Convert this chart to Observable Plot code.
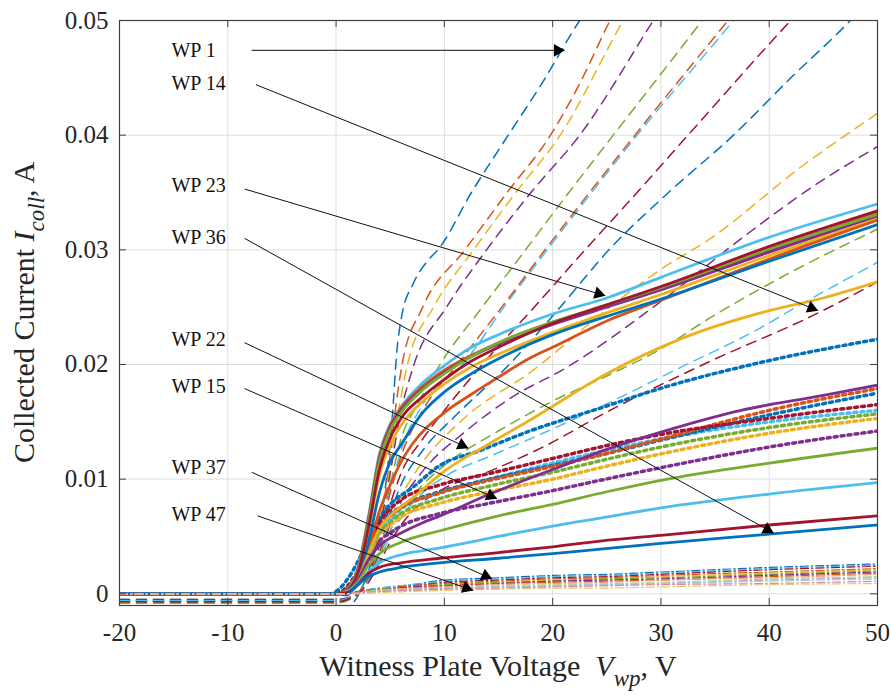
<!DOCTYPE html>
<html><head><meta charset="utf-8">
<script src="https://cdn.jsdelivr.net/npm/d3@7"></script>
<script src="https://cdn.jsdelivr.net/npm/@observablehq/plot@0.6"></script>
<style>
body{margin:0;background:#fff}
svg{display:block}
#chart svg text, #chart svg tspan{font-family:"Liberation Serif","Times New Roman",serif !important;}
</style>
</head><body><div id="chart"></div>
<script>
// ---------- data ----------
const xTicks = [-20, -10, 0, 10, 20, 30, 40, 50];
const yTicks = [0, 0.01, 0.02, 0.03, 0.04, 0.05];
const palette = {blue:"#0072BD", orange:"#D95319", yellow:"#EDB120", purple:"#7E2F8E", green:"#77AC30", lightblue:"#4DBEEE", red:"#A2142F"};

// thin dashed curves: [colour, [[V, I], ...]]
const dashedCurves = [
  ["blue",      [[-20,-0.0006],[-2,-0.0006],[0,-0.0009],[1,-0.0012],[2,-0.0002],[3,0.002],[4,0.0055],[4.7,0.0105],[5.2,0.0155],[5.6,0.021],[6.1,0.0244],[7.1,0.027],[8.7,0.0293],[9.4,0.030],[12.5,0.035],[15.9,0.040],[19,0.0445],[22.5,0.050],[24,0.052]]],
  ["orange",    [[-20,-0.0007],[0,-0.0007],[2,0],[3,0.0022],[4,0.006],[4.8,0.0105],[5.4,0.0155],[6.1,0.02],[8,0.025],[11.9,0.030],[15.8,0.035],[19.8,0.040],[22.5,0.0445],[25.3,0.050],[27,0.053]]],
  ["yellow",    [[-20,-0.0005],[0,-0.0005],[2,0],[3,0.002],[4,0.0058],[4.9,0.0105],[5.6,0.015],[6.6,0.02],[9,0.025],[12.7,0.03],[16.6,0.035],[20.7,0.04],[26.5,0.05],[28,0.0525]]],
  ["purple",    [[-20,-0.0006],[0,-0.0006],[2,0],[3,0.002],[4,0.0056],[5,0.0105],[5.8,0.015],[7.2,0.02],[10.2,0.025],[13.9,0.03],[18,0.035],[22.5,0.04],[29.3,0.05],[31,0.0525]]],
  ["green",     [[-20,-0.0007],[0,-0.0007],[2,0],[3,0.0018],[4,0.0052],[5,0.0095],[6,0.0135],[7.5,0.0165],[9.6,0.02],[13.5,0.025],[17.5,0.03],[21.5,0.035],[25.6,0.04],[33.8,0.05],[35,0.0515]]],
  ["lightblue", [[-20,-0.0005],[0,-0.0005],[2,0],[3,0.0018],[4,0.005],[5,0.009],[6,0.0125],[8,0.0165],[11.7,0.02],[15.5,0.025],[19.5,0.03],[23.6,0.035],[27.8,0.04],[36.7,0.05],[38,0.0515]]],
  ["orange",    [[-20,-0.0008],[0,-0.0008],[2,0],[3,0.0018],[4,0.005],[5,0.0088],[6,0.012],[8,0.016],[11.2,0.02],[15.3,0.025],[19.3,0.03],[23.4,0.035],[27.6,0.04],[36.2,0.05],[37.5,0.0515]]],
  ["red",       [[-20,-0.0006],[0,-0.0006],[2,0],[3,0.0016],[4,0.0045],[5,0.0078],[6,0.0105],[8,0.0135],[10,0.016],[13.5,0.02],[18.3,0.025],[23,0.03],[27.8,0.035],[32.5,0.04],[42,0.05],[43,0.051]]],
  ["blue",      [[-20,-0.0007],[0,-0.0007],[2,0],[3,0.0015],[4,0.004],[5,0.007],[6,0.0095],[8,0.0125],[11,0.0155],[16,0.02],[20.7,0.025],[25.2,0.03],[30.7,0.035],[36.7,0.04],[42,0.045],[47.5,0.05],[49,0.0515]]],
  ["yellow",    [[-20,-0.0006],[0,-0.0006],[2,0],[3,0.0014],[4,0.0038],[5,0.0065],[6,0.0085],[8,0.0115],[11.7,0.0152],[18.2,0.0195],[25,0.0248],[30,0.0283],[34.6,0.031],[42.9,0.0372],[50,0.0419]]],
  ["purple",    [[-20,-0.0005],[0,-0.0005],[2,0],[3,0.0013],[4,0.0036],[5,0.006],[6,0.008],[8,0.0107],[12,0.0142],[16,0.017],[21.4,0.0198],[30,0.0255],[38,0.0314],[44,0.0355],[50,0.039]]],
  ["green",     [[-20,-0.0008],[0,-0.0008],[2,0],[3,0.0012],[4,0.0033],[5,0.0055],[6,0.0072],[8,0.0095],[10,0.0112],[15,0.0142],[20,0.0168],[25,0.019],[29.9,0.0213],[34.6,0.0241],[41.7,0.0279],[50,0.0318]]],
  ["lightblue", [[-20,-0.0006],[0,-0.0006],[2,0],[3,0.0011],[4,0.003],[5,0.005],[6,0.0066],[8,0.0088],[10,0.0102],[14.2,0.012],[17.9,0.0135],[24.4,0.0163],[31.5,0.0196],[39.2,0.0232],[42.3,0.0249],[50,0.0289]]],
  ["red",       [[-20,-0.0007],[0,-0.0007],[2,0],[3,0.001],[4,0.0027],[5,0.0045],[6,0.006],[8,0.008],[10,0.0092],[14.2,0.0107],[19.1,0.0128],[25.3,0.016],[34.6,0.0203],[44.1,0.0243],[50,0.0272]]]
];

// thick solid curves
const solidCurves = [
  ["lightblue", [[-20,0],[0,0],[1,0.0004],[2,0.0022],[3,0.0068],[4,0.0122],[5,0.0148],[6,0.0163],[8,0.0184],[10,0.0199],[12.5,0.0215],[15,0.0226],[20,0.0244],[25,0.0258],[30,0.0276],[40,0.0311],[50,0.034]]],
  ["orange",    [[-20,0],[0,0],[1,0.0004],[2,0.0021],[3,0.0066],[4,0.012],[5,0.0147],[6,0.0162],[8,0.0181],[10,0.0195],[12.5,0.0208],[15,0.0219],[20,0.0237],[25,0.0251],[30,0.0266],[40,0.03],[50,0.0332]]],
  ["purple",    [[-20,0],[0,0],[1,0.0004],[2,0.002],[3,0.0064],[4,0.0117],[5,0.0145],[6,0.016],[8,0.0179],[10,0.0193],[12.5,0.0207],[15,0.0218],[20,0.0235],[25,0.025],[30,0.0265],[40,0.0298],[50,0.0329]]],
  ["green",     [[-20,0],[0,0],[1,0.0004],[2,0.002],[3,0.0063],[4,0.0115],[5,0.0143],[6,0.0158],[8,0.0178],[10,0.0192],[12.5,0.0207],[15,0.0219],[20,0.0237],[25,0.0252],[30,0.0267],[40,0.0301],[50,0.0331]]],
  ["yellow",    [[-20,0],[0,0],[1,0.0003],[2,0.0017],[3,0.0055],[4,0.0103],[5,0.013],[6,0.0147],[8,0.0168],[10,0.0183],[12.5,0.0198],[15,0.0209],[20,0.0228],[25,0.0245],[30,0.0261],[40,0.0295],[50,0.0327]]],
  ["orange",    [[-20,0],[0,0],[1,0.0002],[2,0.0012],[3,0.0038],[4,0.0072],[5,0.0095],[6,0.0115],[7,0.013],[10,0.0158],[12.5,0.0174],[15,0.0189],[18,0.0206],[20,0.0215],[25,0.0238],[30,0.0256],[40,0.0292],[50,0.0326]]],
  ["blue",      [[-20,0],[0,0],[1,0.0003],[2,0.0014],[3,0.0045],[4,0.0088],[5,0.0115],[6,0.013],[8,0.0158],[10,0.0176],[12.5,0.0192],[15,0.0205],[20,0.0226],[25,0.0242],[30,0.0257],[40,0.029],[50,0.0322]]],
  ["red",       [[-20,0],[0,0],[1,0.0003],[2,0.0018],[3,0.0058],[4,0.0108],[5,0.0136],[6,0.0153],[8,0.0172],[10,0.0187],[12.5,0.0203],[15,0.0215],[20,0.0236],[25,0.0252],[30,0.0268],[40,0.0303],[50,0.0334]]],
  ["yellow",    [[-20,0],[0,0],[1,0.0002],[2,0.0012],[3,0.0035],[4,0.0057],[5,0.0068],[7,0.0083],[10,0.0107],[14,0.013],[18,0.0152],[25,0.0192],[32,0.0223],[40,0.0247],[45,0.0258],[50,0.0272]]],
  ["purple",    [[-20,0],[0,0],[1,0.0002],[2,0.0012],[3,0.003],[4,0.0042],[6,0.0053],[8,0.0062],[9.6,0.0068],[14.2,0.0087],[21,0.0112],[25,0.0126],[30,0.0141],[37.4,0.016],[45,0.0173],[50,0.0182]]],
  ["green",     [[-20,0],[0,0],[1,0.0002],[2,0.001],[3,0.0025],[4,0.0035],[6,0.0045],[9.6,0.0055],[15,0.0068],[20,0.0078],[25,0.0089],[30,0.0099],[40,0.0114],[50,0.0127]]],
  ["lightblue", [[-20,0],[0,0],[1,0.0002],[2,0.0009],[3,0.0019],[4,0.0027],[6,0.0034],[9.6,0.004],[15,0.005],[20,0.0059],[24.4,0.0066],[30,0.0075],[40,0.0087],[50,0.0097]]],
  ["red",       [[-20,0],[0,0],[1,0.0001],[2,0.0008],[3,0.0018],[4,0.0023],[6,0.0027],[9.6,0.0031],[15,0.0036],[20,0.0041],[24.4,0.0046],[30,0.0051],[40,0.006],[50,0.0068]]],
  ["blue",      [[-20,0],[0,0],[1,-0.0001],[1.6,0.0004],[2.8,0.0014],[4,0.0019],[6,0.0023],[9.6,0.0027],[15,0.0031],[20,0.0035],[24.4,0.0039],[30,0.0044],[40,0.0052],[50,0.006]]]
];

// thick dotted curves
const dottedCurves = [
  ["blue",      [[-20,0],[-0.5,0],[0,0.0002],[1,0.0012],[2,0.0028],[2.5,0.0038],[3,0.0048],[4,0.0066],[5,0.0078],[7.1,0.0093],[9.6,0.0112],[13.3,0.0125],[17.9,0.0142],[24.4,0.0162],[29.9,0.0179],[39.8,0.0203],[50,0.0222]]],
  ["purple",    [[-20,0],[0,0],[1,0.0004],[2,0.0014],[3,0.003],[4,0.0046],[5,0.0053],[6,0.0059],[9.6,0.007],[14.2,0.0079],[20,0.009],[24.4,0.0099],[30,0.011],[40,0.0128],[50,0.0142]]],
  ["yellow",    [[-20,0],[0,0],[1,0.0004],[2,0.0016],[3,0.0033],[4,0.0052],[5,0.006],[6,0.0067],[9.6,0.0079],[14.2,0.0089],[20,0.01],[24.4,0.011],[30,0.0122],[40,0.014],[50,0.0153]]],
  ["green",     [[-20,0],[0,0],[1,0.0005],[2,0.0017],[3,0.0035],[4,0.0054],[5,0.0063],[6,0.007],[9.6,0.0083],[14.2,0.0094],[20,0.0106],[24.4,0.0116],[30,0.0128],[40,0.0145],[50,0.0157]]],
  ["lightblue", [[-20,0],[0,0],[1,0.0005],[2,0.0018],[3,0.0036],[4,0.0056],[5,0.0066],[6,0.0074],[9.6,0.0088],[14.2,0.0100],[20,0.0114],[24.4,0.0124],[30,0.0135],[40,0.015],[50,0.016]]],
  ["blue",      [[-20,0],[0,0],[1,0.0005],[2,0.0018],[3,0.0037],[4,0.0058],[5,0.0069],[6,0.0076],[9.6,0.0089],[14.2,0.0100],[20,0.0112],[24.4,0.0121],[30,0.0134],[40,0.0156],[50,0.0175]]],
  ["orange",    [[-20,0],[0,0],[1,0.0005],[2,0.0018],[3,0.0037],[4,0.0058],[5,0.0068],[6,0.0075],[9.6,0.0088],[14.2,0.0099],[20,0.0111],[24.4,0.0121],[30,0.0135],[40,0.016],[50,0.0179]]],
  ["red",       [[-20,0],[0,0],[1,0.0006],[2,0.002],[3,0.004],[4,0.0062],[5,0.0074],[6,0.0082],[9.6,0.0095],[14.2,0.0105],[20,0.0118],[24.4,0.0128],[30,0.0139],[40,0.0153],[50,0.0165]]]
];

// thin dash-dot curves near zero: common voltages, one value list per curve
const dashDotV = [-20, 0, 1, 2, 4, 7, 10, 15, 20, 25, 30, 40, 50];
const dashDotColors = ["#0072BD","#4DBEEE","#A2142F","#D95319","#EDB120","#77AC30","#7E2F8E","#D95319","#f0a07a","#b7d88f","#c39bcb","#9fc9e8","#d58b98","#e8c66f"];
const dashDotValues = [
  [0,0,0,0.0002,0.0005,0.0008,0.0012,0.0014,0.0016,0.0017,0.0019,0.0023,0.0026],
  [0,0,0,0.0002,0.0005,0.0008,0.0011,0.0013,0.0015,0.0016,0.0018,0.0022,0.0025],
  [0,0,0,0.0002,0.0004,0.0007,0.0010,0.0012,0.0014,0.0015,0.0017,0.0021,0.0024],
  [0,0,0,0.0002,0.0004,0.0007,0.0009,0.0011,0.0013,0.0014,0.0016,0.0019,0.0022],
  [0,0,0,0.0001,0.0004,0.0006,0.0008,0.0010,0.0012,0.0013,0.0015,0.0018,0.0021],
  [0,0,0,0.0001,0.0004,0.0006,0.0008,0.0010,0.0011,0.0013,0.0014,0.0017,0.0020],
  [0,0,0,0.0001,0.0003,0.0006,0.0007,0.0009,0.0011,0.0012,0.0013,0.0016,0.0019],
  [0,0,0,0.0001,0.0003,0.0005,0.0007,0.0009,0.0010,0.0011,0.0012,0.0015,0.0018],
  [0,0,0,0.0001,0.0003,0.0005,0.0006,0.0008,0.0009,0.0010,0.0012,0.0014,0.0017],
  [0,0,0,0.0001,0.0003,0.0004,0.0005,0.0007,0.0008,0.0009,0.0010,0.0013,0.0015],
  [0,0,0,0.0001,0.0002,0.0004,0.0005,0.0006,0.0007,0.0008,0.0009,0.0012,0.0014],
  [0,0,0,0.0001,0.0002,0.0003,0.0004,0.0006,0.0007,0.0008,0.0009,0.0011,0.0013],
  [0,0,0,0.0001,0.0002,0.0003,0.0004,0.0005,0.0006,0.0007,0.0008,0.0009,0.0011],
  [0,0,0,0,0.0001,0.0002,0.0003,0.0004,0.0005,0.0005,0.0006,0.0008,0.0009]
];

// annotations: label position, arrow start and arrow tip (data units)
const annotations = [
  {label:"WP 1",  tx:-15.2, ty:0.0474, x1:-7.8,  y1:0.0474, x2:21.1, y2:0.0474},
  {label:"WP 14", tx:-15.2, ty:0.0445, x1:-7.4,  y1:0.0444, x2:44.5, y2:0.0247},
  {label:"WP 23", tx:-15.2, ty:0.0356, x1:-8.45, y1:0.0353, x2:24.85, y2:0.0260},
  {label:"WP 36", tx:-15.2, ty:0.0311, x1:-8.45, y1:0.0310, x2:40.4, y2:0.0053},
  {label:"WP 22", tx:-15.2, ty:0.0222, x1:-8.45, y1:0.0219, x2:12.2, y2:0.0127},
  {label:"WP 15", tx:-15.2, ty:0.0181, x1:-8.45, y1:0.0179, x2:14.85, y2:0.0083},
  {label:"WP 37", tx:-15.2, ty:0.0110, x1:-7.8,  y1:0.0106, x2:14.4, y2:0.0013},
  {label:"WP 47", tx:-15.2, ty:0.0069, x1:-7.25, y1:0.0068, x2:12.65, y2:0.0003}
];

// ---------- build ----------
const FONT = '"Liberation Serif", "Times New Roman", serif';
const W = 891, H = 698, mL = 119, mR = 14, mT = 20, mB = 93;
const innerW = W - mL - mR, innerH = H - mT - mB;

const toRows = curves => curves.flatMap(([c, pts], i) => pts.map(([v, cur]) => ({id: i, color: palette[c], v, cur})));
const dashedRows = toRows(dashedCurves);
const solidRows = toRows(solidCurves);
const dottedRows = toRows(dottedCurves);
const dashDotRows = dashDotValues.flatMap((vals, i) => vals.map((cur, j) => ({id: i, color: dashDotColors[i], v: dashDotV[j], cur})));

const base = {
  width: W, height: H, marginLeft: mL, marginRight: mR, marginTop: mT, marginBottom: mB,
  x: {domain: [-20, 50]},
  y: {domain: [-0.00102, 0.05]},
  color: {type: "identity"},
  style: {fontFamily: FONT, fontSize: "25px", color: "#262626", background: "#fff"}
};

const probe = Plot.plot({...base, marks: [Plot.frame()]});
const sx = probe.scale("x"), sy = probe.scale("y");
const heads = annotations.map(a => {
  const X1 = sx.apply(a.x1), Y1 = sy.apply(a.y1), X2 = sx.apply(a.x2), Y2 = sy.apply(a.y2);
  const L = Math.hypot(X2 - X1, Y2 - Y1), ux = (X2 - X1) / L, uy = (Y2 - Y1) / L;
  const back = 7;
  return {x: sx.invert(X2 - ux * back), y: sy.invert(Y2 - uy * back), rotate: Math.atan2(uy, ux) * 180 / Math.PI + 90};
});

const lineOpts = {x: "v", y: "cur", z: "id", stroke: "color", curve: "monotone-x", clip: true};

const chart = Plot.plot({
  ...base,
  marks: [
    Plot.gridX(xTicks, {stroke: "#dedede", strokeOpacity: 1, strokeWidth: 1}),
    Plot.gridY(yTicks, {stroke: "#dedede", strokeOpacity: 1, strokeWidth: 1}),
    Plot.line(dashedRows, {...lineOpts, strokeWidth: 1.5, strokeDasharray: "10,7"}),
    Plot.line(dottedRows, {...lineOpts, strokeWidth: 3.5, strokeDasharray: "3,4"}),
    Plot.line(solidRows, {...lineOpts, strokeWidth: 2.8}),
    Plot.line(dashDotRows, {...lineOpts, strokeWidth: 1.2, strokeDasharray: "8,3,1.5,3"}),
    Plot.link(annotations, {x1: "x1", y1: "y1", x2: "x2", y2: "y2", stroke: "#111", strokeWidth: 1}),
    Plot.dot(heads, {x: "x", y: "y", rotate: "rotate", symbol: "triangle", r: 4.7, fill: "#000", stroke: "none"}),
    Plot.text(annotations, {x: "tx", y: "ty", text: "label", textAnchor: "start", fontSize: 20, fontFamily: FONT, fill: "#111"}),
    Plot.ruleX(xTicks, {insetTop: innerH - 7, stroke: "#404040"}),
    Plot.ruleX(xTicks, {insetBottom: innerH - 7, stroke: "#404040"}),
    Plot.ruleY(yTicks, {insetRight: innerW - 7, stroke: "#404040"}),
    Plot.ruleY(yTicks, {insetLeft: innerW - 7, stroke: "#404040"}),
    Plot.frame({stroke: "#404040", strokeWidth: 1.2}),
    Plot.axisX(xTicks, {tickSize: 0, tickPadding: 18, tickFormat: d => String(d), label: null, fill: "#262626", fontSize: 25, fontFamily: FONT}),
    Plot.axisY(yTicks, {tickSize: 0, tickPadding: 11, tickFormat: d => d === 0 ? "0" : d.toFixed(2), label: null, fill: "#262626", fontSize: 25, fontFamily: FONT})
  ]
});
document.getElementById("chart").appendChild(chart);

// axis titles with italic symbols and subscripts
const svg = d3.select(chart);
const cx = (sx.range[0] + sx.range[1]) / 2;
const xl = svg.append("text").attr("x", cx).attr("y", 676).attr("text-anchor", "middle")
  .style("font-family", FONT).style("font-size", "30px").attr("fill", "#262626");
xl.append("tspan").text("Witness Plate Voltage\u00a0\u00a0");
xl.append("tspan").attr("font-style", "italic").text("V");
xl.append("tspan").attr("font-style", "italic").style("font-size", "23px").attr("dy", 10).text("wp");
xl.append("tspan").attr("dy", -10).text(", V");

const cy = (sy.range[0] + sy.range[1]) / 2;
const yl = svg.append("text").attr("transform", `translate(34,${cy}) rotate(-90)`).attr("text-anchor", "middle")
  .style("font-family", FONT).style("font-size", "30px").attr("fill", "#262626");
yl.append("tspan").text("Collected Current ");
yl.append("tspan").attr("font-style", "italic").text("I");
yl.append("tspan").attr("font-style", "italic").style("font-size", "23px").attr("dy", 10).text("coll");
yl.append("tspan").attr("dy", -10).text(", A");
</script>
</body></html>
